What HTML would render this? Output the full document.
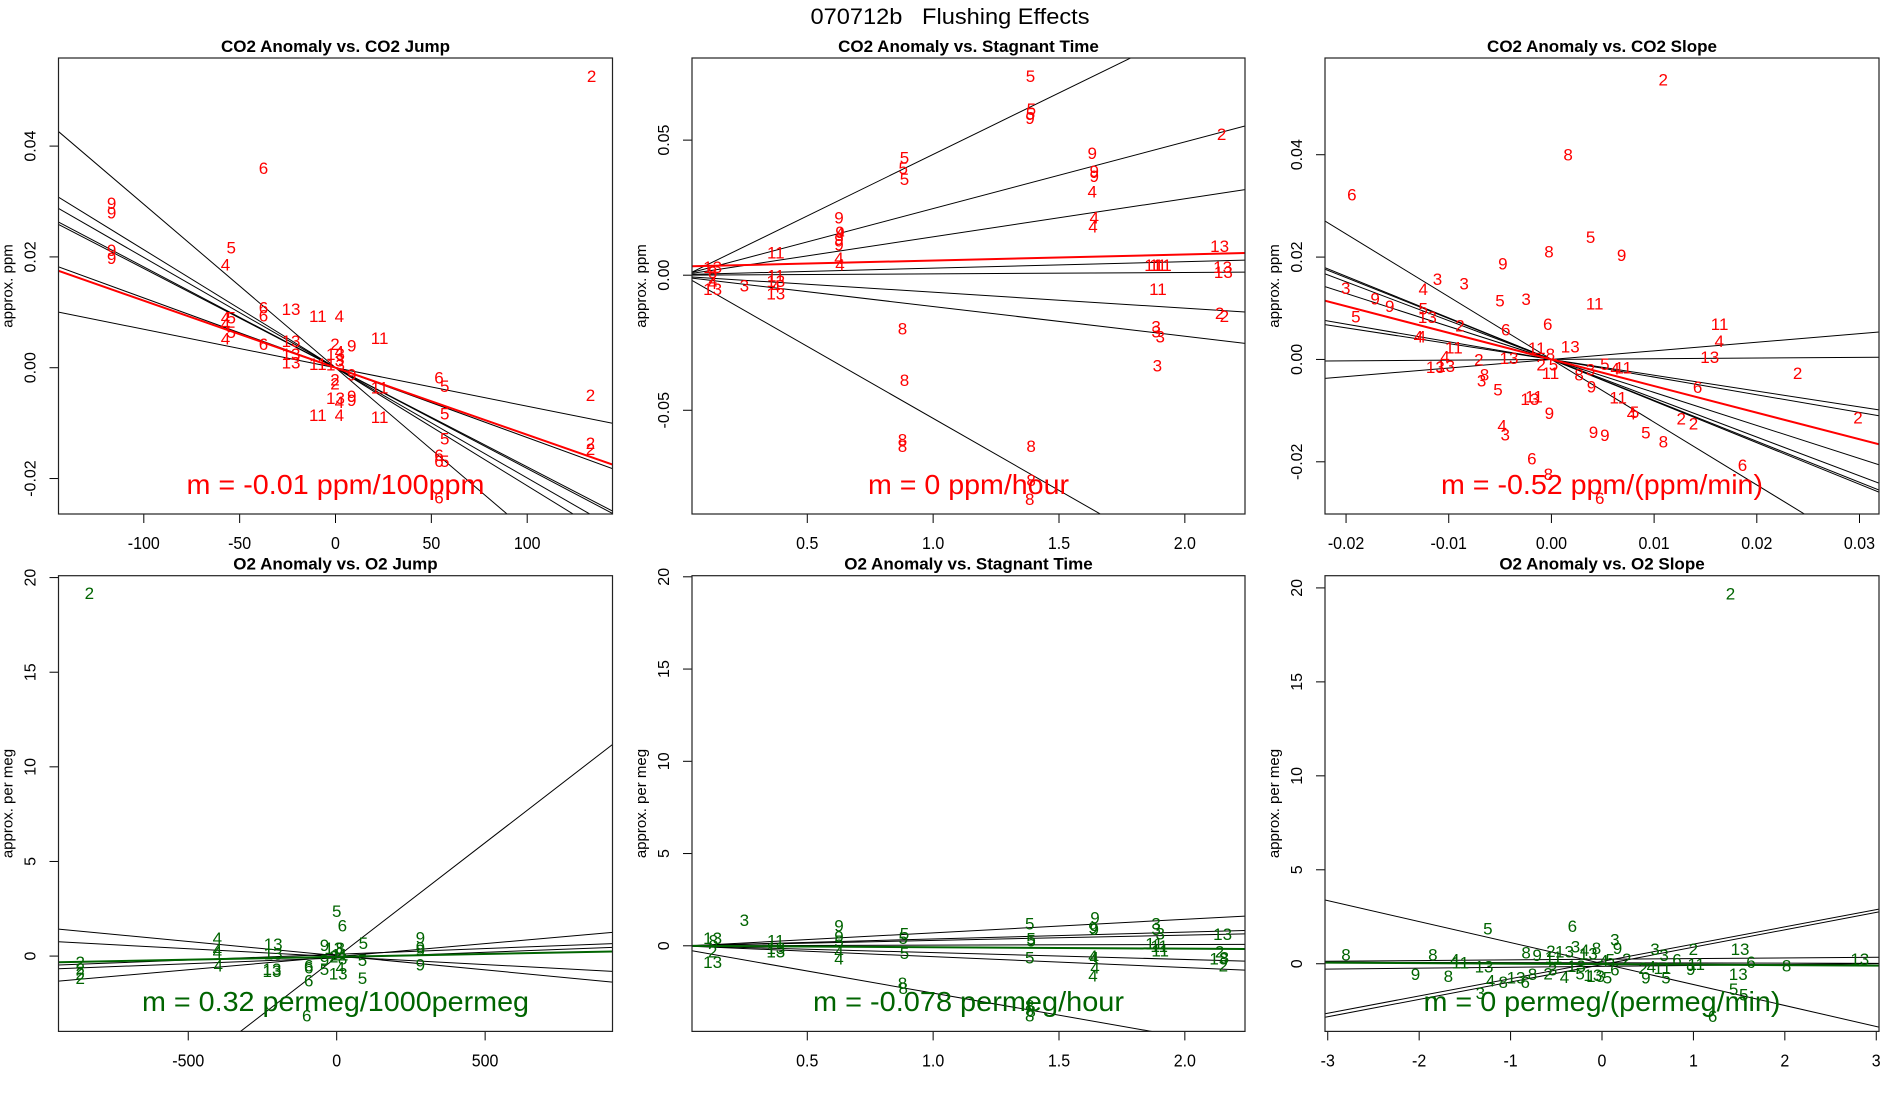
<!DOCTYPE html>
<html><head><meta charset="utf-8"><style>
html,body{margin:0;padding:0;background:#fff;width:1900px;height:1100px;overflow:hidden;}
svg{display:block;font-family:"Liberation Sans",sans-serif;}
</style></head><body>
<svg id="chart" width="1900" height="1100" viewBox="0 0 1900 1100" xmlns="http://www.w3.org/2000/svg">
<rect width="1900" height="1100" fill="#fff"/>
<text x="950" y="24" text-anchor="middle" font-size="22" textLength="279" lengthAdjust="spacingAndGlyphs" style="white-space:pre">070712b   Flushing Effects</text>
</svg>
<script>
// ---------- data ----------
const p1Lab=['2','6','9','9','9','9','5','4','6','6','13','11','4','4','5','4','5','4','6','13','13','13','11','2','9','13','13','4','3','11','9','2','2','11','6','5','13','4','9','9','2','11','4','11','5','5','6','6','5','2','2','6'];
const p1X=[133.6,-37.6,-116.8,-116.8,-116.8,-116.8,-54.4,-57.4,-37.6,-37.6,-23.2,-9.2,2,-57.4,-54.4,-57.4,-54.4,-57.4,-37.6,-23.2,-23.2,-23.2,23,-0.3,8.5,0,0,2,2,-9.2,8.5,-0.3,-0.3,23,54,57,0,2,8.5,8.5,133,-9.2,2,23,57,57,54,54,57,133,133,54];
const p1Y=[0.0527,0.0361,0.0298,0.0281,0.0213,0.0199,0.0218,0.0187,0.0110,0.0095,0.0107,0.0094,0.0094,0.0092,0.0092,0.0081,0.0065,0.0054,0.0044,0.0049,0.0026,0.0010,0.0055,0.0044,0.0041,0.0026,0.0007,0.0030,0.0014,0.0008,-0.0011,-0.0020,-0.0028,-0.0035,-0.0017,-0.0032,-0.0054,-0.0061,-0.0050,-0.0057,-0.0048,-0.0084,-0.0084,-0.0088,-0.0082,-0.0127,-0.0157,-0.0167,-0.0167,-0.0135,-0.0146,-0.0233];
const p1Slopes=[-0.000295,-0.000213,-0.000199,-0.000182,-0.000179,-0.000126,-0.0000694];
const p1Ints=[0,0,0,0,0,0,0];
const p1Fit=[-0.000121,0];

const p2Lab=['5','5','5','9','2','9','9','9','4','5','5','5','9','9','4','9','9','4','4','4','4','11','13','11','11','11','13','13','11','2','2','3','3','3','3','8','8','8','8','8','8','8','3','13','8','2','4','13','11','13','4','13'];
const p2X=[1.387,1.39,1.387,1.385,2.146,1.632,1.64,1.64,1.632,0.886,0.881,0.886,0.626,0.63,0.63,0.626,0.626,1.64,1.635,0.626,0.63,0.375,2.138,1.874,1.893,1.913,2.150,2.153,1.893,2.138,2.157,1.886,1.886,1.902,1.891,0.878,0.886,0.878,0.878,1.389,1.389,1.384,0.25,0.124,0.124,0.124,0.124,0.124,0.375,0.375,0.375,0.375];
const p2Y=[0.0739,0.0617,0.0600,0.0584,0.0524,0.0454,0.0387,0.0369,0.0312,0.0438,0.0398,0.0358,0.0215,0.0162,0.0158,0.0135,0.0115,0.0215,0.0183,0.0066,0.0042,0.0086,0.0110,0.0040,0.0040,0.0040,0.0033,0.0013,-0.0050,-0.0139,-0.0149,-0.0188,-0.0206,-0.0225,-0.0332,-0.0196,-0.0387,-0.0607,-0.0630,-0.0630,-0.0756,-0.0826,-0.0036,0.0033,0.0013,-0.0007,-0.0027,-0.0050,0.0000,-0.0020,-0.0040,-0.0066];
const p2Slopes=[0.0455,0.02467,0.0141,0.0024,0.0005,-0.0059,-0.011,-0.0533];
const p2Ints=[-0.0008,0,0.0001,0.0002,0,-0.0004,-0.0006,0.0003];
const p2Fit=[0.00223,0.0032];

const p3Lab=['2','8','6','5','8','9','9','3','3','4','3','9','9','5','3','11','5','13','5','2','6','6','11','4','4','4','13','11','11','4','2','13','13','13','13','2','8','3','5','4','11','3','8','8','2','5','11','5','9','6','11','13','11','9','4','5','2','2','2','4','3','9','9','5','8','6','6','8','6'];
const p3X=[0.01089,0.00163,-0.01944,0.00382,-0.00024,0.00684,-0.00473,-0.01109,-0.0085,-0.01248,-0.02003,-0.01717,-0.01574,-0.00501,-0.00246,0.00421,-0.01248,-0.01208,-0.01904,-0.0089,-0.00445,-0.00036,0.01638,-0.01268,-0.01296,0.01634,0.00183,-0.00143,-0.0095,-0.01037,-0.00707,-0.00413,0.01542,-0.0113,-0.0103,0.02397,-0.00652,-0.0068,0.0052,0.0062,0.0070,0.0038,0.0027,-0.0001,-0.001,0.0002,-0.0001,-0.0052,0.0039,0.01423,0.0065,-0.0021,-0.0017,-0.0002,0.0078,0.0081,0.01264,0.01383,0.02985,-0.0048,-0.0045,0.0041,0.0052,0.0092,0.0109,-0.0019,0.0186,-0.0003,0.0047];
const p3Y=[0.0548,0.0401,0.0323,0.0240,0.0212,0.0205,0.0188,0.0158,0.0149,0.0139,0.0141,0.0120,0.0105,0.0116,0.0119,0.0110,0.0101,0.0084,0.0085,0.0067,0.0059,0.0070,0.0070,0.0046,0.0046,0.0037,0.0026,0.0023,0.0024,0.0007,0.0001,0.0004,0.0006,-0.0014,-0.0012,-0.0026,-0.0028,-0.0040,-0.0008,-0.0017,-0.0015,-0.0019,-0.0028,0.0012,-0.0009,-0.0009,-0.0026,-0.0058,-0.0052,-0.0053,-0.0073,-0.0076,-0.0071,-0.0104,-0.0105,-0.0102,-0.0114,-0.0124,-0.0112,-0.0128,-0.0146,-0.0141,-0.0147,-0.0142,-0.0159,-0.0193,-0.0205,-0.0223,-0.0270];
const p3Slopes=[-1.226,-0.813,-0.80,-0.758,-0.645,-0.345,-0.309,0.0136,0.168];
const p3Ints=[0,0,0,0,0,0,0,0,0];
const p3Fit=[-0.52,0];

const p4Lab=['2','5','6','4','4','4','4','13','13','13','13','9','9','9','9','5','5','5','6','6','6','6','2','2','2','2','9','13','8','2','9','5','13','4','8','11'];
const p4X=[-833,0,19,-402,-402,-402,-399,-214,-214,-218,-218,282,282,282,282,90,87,87,-94,-94,-94,-101,-864,-864,-864,-864,-41,-10,12,-10,-41,-41,5,12,20,10];
const p4Y=[19.2,2.4,1.64,0.98,0.38,0.25,-0.47,0.66,0.15,-0.66,-0.75,1.0,0.47,0.34,-0.43,0.72,-0.19,-1.13,-0.47,-0.57,-1.26,-3.11,-0.28,-0.62,-0.89,-1.13,0.6,0.45,0.45,0,-0.19,-0.66,-0.89,-0.57,-0.1,0.1];
const p4Slopes=[0.0121,-0.0015,-0.000837,0.000605,0.00138,0.000606];
const p4Ints=[-0.06,0.02,-0.03,0.095,-0.03,-0.1];
const p4Fit=[0.000303,-0.04];

const p5Lab=['3','9','9','5','4','4','5','5','5','8','8','5','5','5','5','8','8','8','9','9','9','4','4','4','4','3','3','3','11','11','11','13','2','13','8','2','13','8','2','13','11','13','13'];
const p5X=[0.25,0.626,0.626,0.626,0.626,0.626,0.886,0.881,0.886,0.878,0.881,1.384,1.389,1.389,1.384,1.384,1.389,1.384,1.643,1.635,1.64,1.635,1.64,1.643,1.635,1.886,1.886,1.902,1.878,1.898,1.902,2.15,2.138,2.135,2.157,2.153,0.124,0.127,0.124,0.124,0.375,0.375,0.375];
const p5Y=[1.43,1.12,0.54,0.3,-0.27,-0.66,0.70,0.46,-0.37,-2.0,-2.25,1.24,0.41,0.31,-0.62,-3.2,-3.5,-3.75,1.57,1.03,0.93,-0.52,-0.62,-1.14,-1.59,1.24,0.93,0.70,0.15,0.02,-0.23,0.66,-0.27,-0.66,-0.62,-1.05,0.46,0.31,-0.27,-0.85,0.31,-0.08,-0.27];
const p5Slopes=[0.733,0.37,0.29,0.035,-0.37,-0.59,-2.394];
const p5Ints=[-0.03,0,0,0,0,0,-0.17];
const p5Fit=[-0.078,0];

const p6Lab=['2','5','6','8','8','4','11','13','9','8','8','9','2','13','3','4','13','8','3','9','11','13','5','13','4','8','13','6','8','2','3','4','3','13','13','6','8','13','5','5','6','2','3','3','2','9','9','4','11','5','11','6','5','13','2','4','5','6'];
const p6X=[1.405,-1.248,-0.324,-2.80,-1.85,-1.61,-1.55,-1.29,-2.04,-1.68,-0.83,-0.71,-0.56,-0.41,-0.29,-0.19,-0.15,-0.06,0.14,0.17,-0.53,-0.28,-0.24,-0.10,-1.22,-1.08,-0.94,-0.84,-0.76,-0.59,-0.54,-0.41,-1.33,1.51,1.49,1.63,2.02,2.82,1.44,1.55,1.21,1.0,0.58,0.68,0.45,0.48,0.97,0.54,0.66,0.70,1.03,0.82,0.06,-0.07,0.27,0.02,0.09,0.14];
const p6Y=[19.73,1.90,2.04,0.51,0.51,0.25,0.10,-0.13,-0.51,-0.63,0.63,0.48,0.70,0.67,0.95,0.76,0.57,0.86,1.33,0.86,0.38,-0.10,-0.48,-0.57,-0.86,-0.95,-0.70,-0.95,-0.51,-0.48,-0.29,-0.67,-1.52,0.82,-0.51,0.13,-0.06,0.29,-1.33,-1.62,-2.76,0.80,0.80,0.48,-0.19,-0.70,-0.25,-0.13,-0.19,-0.70,0.0,0.25,-0.70,-0.63,0.29,0.19,0.25,-0.29];
const p6Slopes=[-1.116,0.919,0.926,0.035,0.048,-0.01];
const p6Ints=[0.01,0.125,-0.045,0.24,-0.14,0.05];
const p6Fit=[-0.026,-0.02];

const xTicks1=[-100,-50,0,50,100], yTicks1=[-0.02,0,0.02,0.04];
const xTicks1Lab=['-100','-50','0','50','100'], yTicks1Lab=['-0.02','0.00','0.02','0.04'];
const xTicks2=[0.5,1,1.5,2], xTicks2Lab=['0.5','1.0','1.5','2.0'];
const yTicks2=[-0.05,0,0.05], yTicks2Lab=['-0.05','0.00','0.05'];
const xTicks3=[-0.02,-0.01,0,0.01,0.02,0.03], xTicks3Lab=['-0.02','-0.01','0.00','0.01','0.02','0.03'];
const yTicks3=[-0.02,0,0.02,0.04], yTicks3Lab=['-0.02','0.00','0.02','0.04'];
const xTicks4=[-500,0,500], xTicks4Lab=['-500','0','500'];
const yTicksO=[0,5,10,15,20], yTicksOLab=['0','5','10','15','20'];
const xTicks6=[-3,-2,-1,0,1,2,3], xTicks6Lab=['-3','-2','-1','0','1','2','3'];

// ---------- drawing ----------
const NS='http://www.w3.org/2000/svg';
const svg=document.getElementById('chart');
function mk(tag,attrs,parent){const e=document.createElementNS(NS,tag);for(const k in attrs)e.setAttribute(k,attrs[k]);(parent||svg).appendChild(e);return e;}

const panels=[
 {id:'co2-jump',title:'CO2 Anomaly vs. CO2 Jump',L:58.5,R:612.5,T:58,B:514,x0:-144.5,x1:144.5,y0:-0.0264,y1:0.0559,lab:p1Lab,xs:p1X,ys:p1Y,sl:p1Slopes,it:p1Ints,fit:p1Fit,xt:xTicks1,xtl:xTicks1Lab,yt:yTicks1,ytl:yTicks1Lab,col:'#ff0000',ylab:'approx. ppm',m:'m = -0.01 ppm/100ppm',mw:298},
 {id:'co2-stagnant',title:'CO2 Anomaly vs. Stagnant Time',L:692,R:1245,T:58,B:514,x0:0.042,x1:2.239,y0:-0.0884,y1:0.0804,lab:p2Lab,xs:p2X,ys:p2Y,sl:p2Slopes,it:p2Ints,fit:p2Fit,xt:xTicks2,xtl:xTicks2Lab,yt:yTicks2,ytl:yTicks2Lab,col:'#ff0000',ylab:'approx. ppm',m:'m = 0 ppm/hour',mw:201},
 {id:'co2-slope',title:'CO2 Anomaly vs. CO2 Slope',L:1325,R:1879,T:58,B:514,x0:-0.02205,x1:0.0319,y0:-0.0302,y1:0.0589,lab:p3Lab,xs:p3X,ys:p3Y,sl:p3Slopes,it:p3Ints,fit:p3Fit,xt:xTicks3,xtl:xTicks3Lab,yt:yTicks3,ytl:yTicks3Lab,col:'#ff0000',ylab:'approx. ppm',m:'m = -0.52 ppm/(ppm/min)',mw:322},
 {id:'o2-jump',title:'O2 Anomaly vs. O2 Jump',L:58.5,R:612.5,T:575.7,B:1031.4,x0:-937,x1:929,y0:-3.98,y1:20.1,lab:p4Lab,xs:p4X,ys:p4Y,sl:p4Slopes,it:p4Ints,fit:p4Fit,xt:xTicks4,xtl:xTicks4Lab,yt:yTicksO,ytl:yTicksOLab,col:'#006400',ylab:'approx. per meg',m:'m = 0.32 permeg/1000permeg',mw:387},
 {id:'o2-stagnant',title:'O2 Anomaly vs. Stagnant Time',L:692,R:1245,T:575.7,B:1031.4,x0:0.042,x1:2.239,y0:-4.64,y1:20.06,lab:p5Lab,xs:p5X,ys:p5Y,sl:p5Slopes,it:p5Ints,fit:p5Fit,xt:xTicks2,xtl:xTicks2Lab,yt:yTicksO,ytl:yTicksOLab,col:'#006400',ylab:'approx. per meg',m:'m = -0.078 permeg/hour',mw:311},
 {id:'o2-slope',title:'O2 Anomaly vs. O2 Slope',L:1325,R:1879,T:575.7,B:1031.4,x0:-3.03,x1:3.03,y0:-3.6,y1:20.65,lab:p6Lab,xs:p6X,ys:p6Y,sl:p6Slopes,it:p6Ints,fit:p6Fit,xt:xTicks6,xtl:xTicks6Lab,yt:yTicksO,ytl:yTicksOLab,col:'#006400',ylab:'approx. per meg',m:'m = 0 permeg/(permeg/min)',mw:357}
];

panels.forEach((p,pi)=>{
  const sx=v=>p.L+(v-p.x0)/(p.x1-p.x0)*(p.R-p.L);
  const sy=v=>p.B-(v-p.y0)/(p.y1-p.y0)*(p.B-p.T);
  const g=mk('g',{});
  
  
  const cp=mk('clipPath',{id:'clip'+pi},g);
  mk('rect',{x:p.L,y:p.T,width:p.R-p.L,height:p.B-p.T},cp);
  const t=mk('text',{x:(p.L+p.R)/2,y:p.T-6,'text-anchor':'middle','font-size':17,'font-weight':'bold'},g);
  t.textContent=p.title;
  
  
  const yl=mk('text',{transform:`translate(${p.L-46},${(p.T+p.B)/2}) rotate(-90)`,'text-anchor':'middle','font-size':15},g);
  yl.textContent=p.ylab;
  
  
  p.xt.forEach((v,i)=>{
    const x=sx(v);
    const tk=mk('line',{x1:x,x2:x,y1:p.B,y2:p.B+9,stroke:'#000','stroke-width':1},g);
    
    
    const tl=mk('text',{x:x,y:p.B+35,'text-anchor':'middle','font-size':16,transform:`translate(0,${p.B+35}) scale(1,1.1) translate(0,${-(p.B+35)})`},g);
    tl.textContent=p.xtl[i];
    
    
  });
  p.yt.forEach((v,i)=>{
    const y=sy(v);
    const tk=mk('line',{x1:p.L-9,x2:p.L,y1:y,y2:y,stroke:'#000','stroke-width':1},g);
    
    
    const tl=mk('text',{transform:`translate(${p.L-23},${y}) rotate(-90)`,'text-anchor':'middle','font-size':16},g);
    tl.textContent=p.ytl[i];
    
    
  });
  const inner=mk('g',{'clip-path':`url(#clip${pi})`},g);
  p.sl.forEach((s,i)=>{
    const b=p.it[i];
    const ln=mk('line',{x1:sx(p.x0),y1:sy(b+s*p.x0),x2:sx(p.x1),y2:sy(b+s*p.x1),stroke:'#000','stroke-width':1},inner);
    
    
  });
  const fl=mk('line',{x1:sx(p.x0),y1:sy(p.fit[1]+p.fit[0]*p.x0),x2:sx(p.x1),y2:sy(p.fit[1]+p.fit[0]*p.x1),stroke:p.col,'stroke-width':2},inner);
  
  
  p.lab.forEach((l,i)=>{
    const tx=mk('text',{x:sx(p.xs[i]),y:sy(p.ys[i])+6.5,'text-anchor':'middle','font-size':17,fill:p.col},inner);
    tx.textContent=l;
    
    
  });
  const row2=p.T>300;
  const mt=mk('text',{x:(p.L+p.R)/2,y:(row2?1001:484)+10,'text-anchor':'middle','font-size':28,fill:p.col,textLength:p.mw,lengthAdjust:'spacingAndGlyphs'},g);
  mt.textContent=p.m;
  
  
  const box=mk('rect',{x:p.L,y:p.T,width:p.R-p.L,height:p.B-p.T,fill:'none',stroke:'#222','stroke-width':1.2},g);
  
  
});
</script>
</body></html>
